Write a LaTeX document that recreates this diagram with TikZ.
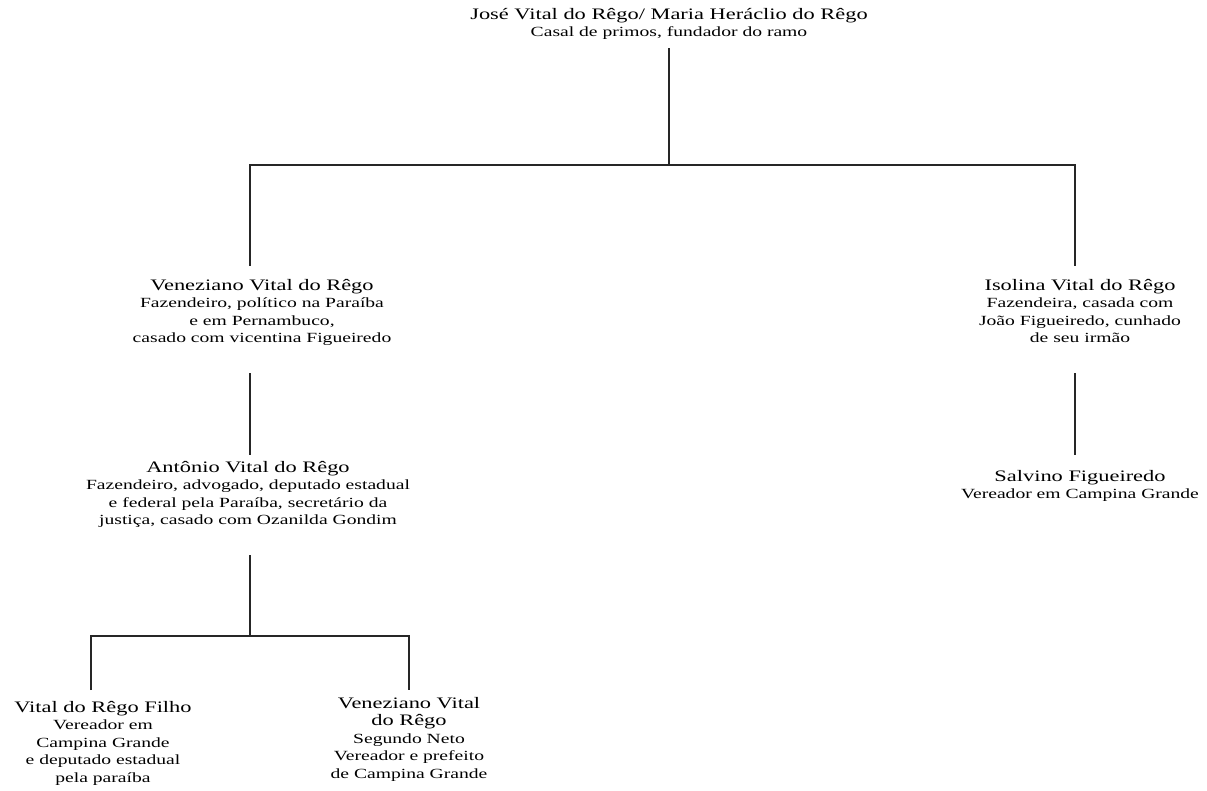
\documentclass[tikz,border=0pt]{standalone}
\usepackage{fontspec}
\setmainfont{Liberation Serif}[FakeStretch=1.4]
\newcommand\pname[1]{{\fontsize{16}{17.5}\selectfont #1}}
\begin{document}
\begin{tikzpicture}[x=1pt,y=-1pt,
  person/.style={align=center,inner sep=0pt,anchor=north,
    font=\fontsize{14}{17.5}\selectfont},
  link/.style={draw=black!85,line width=1.3pt}]
\useasboundingbox (0,0) rectangle (1207,791);

% people
\node[person] (top) at (669,8) {\pname{José Vital do Rêgo/ Maria Heráclio do Rêgo}\\Casal de primos, fundador do ramo};
\node[person] (ven) at (262,279) {\pname{Veneziano Vital do Rêgo}\\Fazendeiro, político na Paraíba\\e em Pernambuco,\\casado com vicentina Figueiredo};
\node[person] (iso) at (1080,279) {\pname{Isolina Vital do Rêgo}\\Fazendeira, casada com\\João Figueiredo, cunhado\\de seu irmão};
\node[person] (ant) at (248,461) {\pname{Antônio Vital do Rêgo}\\Fazendeiro, advogado, deputado estadual\\e federal pela Paraíba, secretário da\\justiça, casado com Ozanilda Gondim};
\node[person] (sal) at (1080,470) {\pname{Salvino Figueiredo}\\Vereador em Campina Grande};
\node[person] (vf) at (103,701) {\pname{Vital do Rêgo Filho}\\Vereador em\\Campina Grande\\e deputado estadual\\pela paraíba};
\node[person] (vv) at (409,697) {\pname{Veneziano Vital}\\\pname{do Rêgo}\\Segundo Neto\\Vereador e prefeito\\de Campina Grande};

% junction points
\coordinate (j0) at (669,165);
\coordinate (jL) at (250,165);
\coordinate (jR) at (1075,165);
\coordinate (k0) at (250,636);
\coordinate (kL) at (91,636);
\coordinate (kR) at (409,636);

% connectors
\draw[link,shorten <=8pt] (top.south) -- (j0);
\draw[link,shorten <=13pt,shorten >=13pt] (ven.north -| jL) |- (jR) -- (iso.north -| jR);
\draw[link,shorten <=27pt,shorten >=6pt] (ven.south -| jL) -- (ant.north -| jL);
\draw[link,shorten <=30pt,shorten >=15pt] (iso.south -| jR) -- (sal.north -| jR);
\draw[link,shorten <=27pt] (ant.south -| jL) -- (k0);
\draw[link,shorten <=11pt,shorten >=7pt] (vf.north -| kL) |- (kR) -- (vv.north);
\end{tikzpicture}
\end{document}
